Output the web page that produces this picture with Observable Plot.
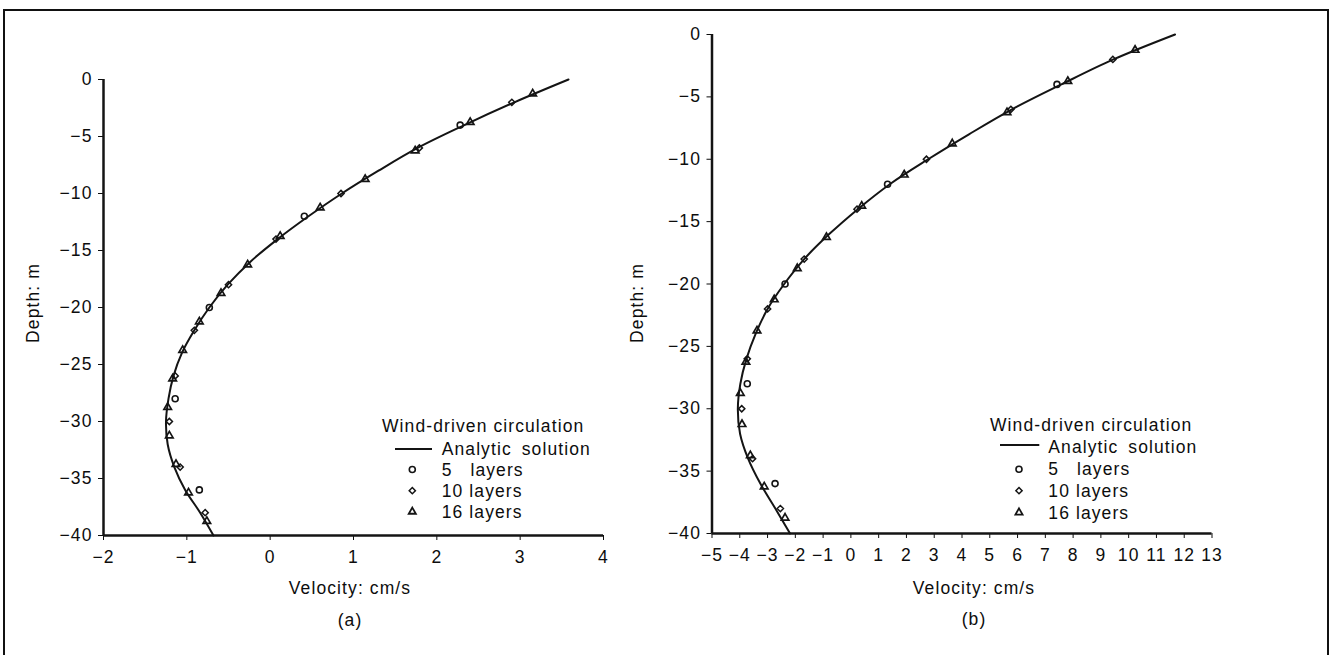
<!DOCTYPE html>
<html><head><meta charset="utf-8">
<script src="https://cdn.jsdelivr.net/npm/d3@7"></script>
<script src="https://cdn.jsdelivr.net/npm/@observablehq/plot@0.6"></script>
<style>
body{margin:0;background:#fff;}
#wrap{position:relative;width:1334px;height:655px;overflow:hidden;font-family:"Liberation Sans",Arial,Helvetica,sans-serif;color:#0d0d0d;font-size:17.5px;letter-spacing:1.1px;}
#frame{position:absolute;left:3px;top:9px;width:1326px;height:720px;border:2px solid #111;box-sizing:border-box;pointer-events:none;}
.t{position:absolute;white-space:pre;line-height:20px;}
</style></head>
<body>
<div id="wrap"><div id="frame"></div></div>
<script>
// ---- data ----
const curveDepth = [0,-2,-4,-6,-8,-10,-12,-14,-16,-18,-20,-22,-24,-26,-28,-30,-32,-34,-36,-38,-40];
const curveA = [3.58,2.93,2.33,1.77,1.30,0.86,0.46,0.09,-0.24,-0.51,-0.73,-0.91,-1.06,-1.16,-1.22,-1.25,-1.23,-1.15,-1.02,-0.84,-0.68];
const curveB = [11.67,9.45,7.58,5.80,4.25,2.78,1.40,0.25,-0.78,-1.68,-2.40,-3.00,-3.43,-3.76,-3.98,-4.07,-3.99,-3.70,-3.26,-2.72,-2.19];

const depth5 = [-4,-12,-20,-28,-36];
const depth10 = [-2,-6,-10,-14,-18,-22,-26,-30,-34,-38];
const depth16 = [-1.25,-3.75,-6.25,-8.75,-11.25,-13.75,-16.25,-18.75,-21.25,-23.75,-26.25,-28.75,-31.25,-33.75,-36.25,-38.75];

const layers5A = [2.28,0.41,-0.73,-1.14,-0.85];
const layers10A = [2.90,1.79,0.85,0.07,-0.50,-0.91,-1.14,-1.21,-1.08,-0.78];
const layers16A = [3.15,2.40,1.74,1.14,0.60,0.12,-0.27,-0.59,-0.85,-1.05,-1.17,-1.23,-1.21,-1.13,-0.98,-0.76];

const layers5B = [7.42,1.32,-2.37,-3.73,-2.73];
const layers10B = [9.43,5.76,2.72,0.22,-1.68,-3.00,-3.73,-3.93,-3.54,-2.54];
const layers16B = [10.23,7.81,5.62,3.65,1.92,0.39,-0.88,-1.93,-2.76,-3.38,-3.78,-3.98,-3.92,-3.62,-3.12,-2.37];

const depthTicks = [0,-5,-10,-15,-20,-25,-30,-35,-40];
const velTicksA = [-2,-1,0,1,2,3,4];
const velTicksB = [-5,-4,-3,-2,-1,0,1,2,3,4,5,6,7,8,9,10,11,12,13];

const legendTitle = "Wind-driven circulation";
const legendLine = "Analytic solution";
const legendSeries = ["5   layers","10 layers","16 layers"];
const yLabel = "Depth: m";
const xLabel = "Velocity: cm/s";

// ---- drawing ----
const ink = "#141414";
const fmt = d => d < 0 ? "\u2212" + Math.abs(d) : String(d);
const zip = (zs, vs) => zs.map((z, i) => ({z, v: vs[i]}));

function panel(o) {
  return Plot.plot({
    width: 667, height: 655,
    marginLeft: o.ml, marginRight: o.mr, marginTop: o.mt, marginBottom: o.mb,
    style: {fontSize: "17.5px", fontFamily: "'Liberation Sans', Arial, Helvetica, sans-serif",
            letterSpacing: "1.1px", background: "transparent", overflow: "visible", color: "#0d0d0d"},
    x: {domain: o.xDomain, ticks: o.xTicks, tickFormat: fmt, tickSize: 5, tickPadding: 10, label: null},
    y: {domain: [-40, 0], ticks: depthTicks, tickFormat: fmt, tickSize: 5, tickPadding: 6, label: null},
    marks: [
      Plot.ruleX([o.xDomain[0]], {stroke: ink, strokeWidth: 2.5}),
      Plot.ruleY([-40], {stroke: ink, strokeWidth: 2.5}),
      Plot.line(zip(curveDepth, o.curve), {x: "v", y: "z", curve: "catmull-rom", stroke: ink, strokeWidth: 2}),
      Plot.dot(zip(depth5, o.l5), {x: "v", y: "z", symbol: "circle", r: 3, stroke: ink, strokeWidth: 1.6, fill: "none"}),
      Plot.dot(zip(depth10, o.l10), {x: "v", y: "z", symbol: "diamond2", r: 2.8, stroke: ink, strokeWidth: 1.5, fill: "none"}),
      Plot.dot(zip(depth16, o.l16), {x: "v", y: "z", symbol: "triangle2", r: 3.6, stroke: ink, strokeWidth: 1.7, fill: "none"})
    ]
  });
}

const wrap = document.getElementById("wrap");

const pa = panel({xDomain: [-2, 4], xTicks: velTicksA, curve: curveA, l5: layers5A, l10: layers10A, l16: layers16A,
                  ml: 103, mr: 64, mt: 79, mb: 120});
pa.style.position = "absolute"; pa.style.left = "0px"; pa.style.top = "0px";
wrap.insertBefore(pa, wrap.firstChild);

const pb = panel({xDomain: [-5, 13], xTicks: velTicksB, curve: curveB, l5: layers5B, l10: layers10B, l16: layers16B,
                  ml: 44.5, mr: 122.5, mt: 34, mb: 122});
pb.style.position = "absolute"; pb.style.left = "667px"; pb.style.top = "0px";
wrap.insertBefore(pb, wrap.firstChild);

function text(str, x, y, opts = {}) {
  const d = document.createElement("div");
  d.className = "t";
  d.textContent = str;
  d.style.left = x + "px";
  d.style.top = y + "px";
  let tr = opts.center ? "translate(-50%,-50%) " : "translate(0,-50%) ";
  if (opts.rotate) tr += "rotate(" + opts.rotate + "deg)";
  d.style.transform = tr;
  if (opts.ws) d.style.wordSpacing = opts.ws;
  wrap.appendChild(d);
  return d;
}

// axis titles and panel letters
text(yLabel, 33, 303, {center: true, rotate: -90});
text(yLabel, 637, 303, {center: true, rotate: -90});
text(xLabel, 350, 588, {center: true});
text(xLabel, 974, 588, {center: true});
text("(a)", 350, 620, {center: true});
text("(b)", 974, 619, {center: true});

// legends
const overlay = d3.select(wrap).append("svg")
  .attr("width", 1334).attr("height", 655)
  .style("position", "absolute").style("left", 0).style("top", 0).style("pointer-events", "none");

function legend(L) {
  text(legendTitle, L.titleX, L.rows[0]);
  overlay.append("line").attr("x1", L.lineX0).attr("x2", L.lineX1).attr("y1", L.lineY).attr("y2", L.lineY)
    .attr("stroke", ink).attr("stroke-width", 2);
  text(legendLine, L.textX, L.rows[1], {ws: "4px"});
  const syms = [[d3.symbolCircle, 3, 1.6], [d3.symbolDiamond2, 2.8, 1.5], [d3.symbolTriangle2, 3.4, 1.8]];
  legendSeries.forEach((s, i) => {
    const [sym, r, sw] = syms[i];
    overlay.append("path").attr("d", d3.symbol(sym, Math.PI * r * r)())
      .attr("transform", `translate(${L.markX},${L.rows[i + 2]})`)
      .attr("fill", "none").attr("stroke", ink).attr("stroke-width", sw);
    text(s, L.textX, L.rows[i + 2]);
  });
}
legend({titleX: 382, rows: [426, 449, 469.5, 490.7, 511.7], lineX0: 395, lineX1: 432, lineY: 449, markX: 412.3, textX: 441.7});
legend({titleX: 990, rows: [425, 447, 469.3, 490.7, 512.5], lineX0: 1000, lineX1: 1039.3, lineY: 445, markX: 1019, textX: 1048.3});
</script>
</body></html>
